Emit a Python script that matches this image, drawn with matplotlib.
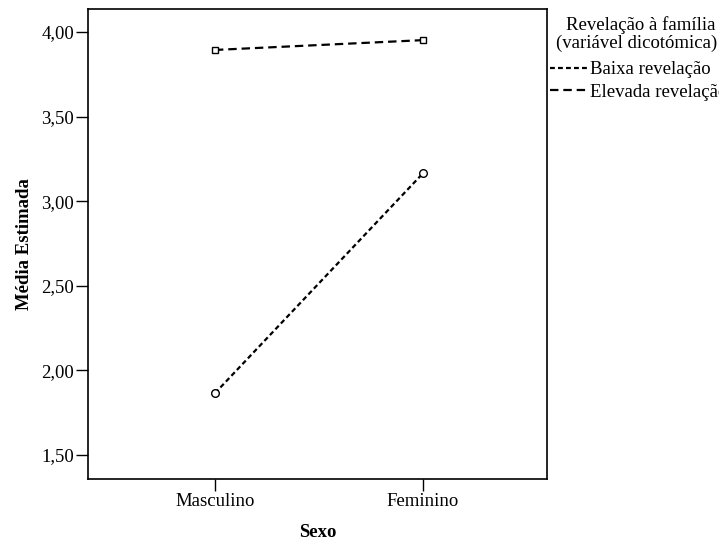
import matplotlib
matplotlib.use("Agg")
import matplotlib.pyplot as plt
from matplotlib.lines import Line2D

# === Data ===
categories = ["Masculino", "Feminino"]
baixa = [1.865, 3.165]
elevada = [3.894, 3.952]
y_ticks = [1.50, 2.00, 2.50, 3.00, 3.50, 4.00]

plt.rcParams["font.family"] = ["Liberation Serif", "DejaVu Serif"]
FS = 13.5

fig = plt.figure(figsize=(7.19, 5.45), dpi=100)
ax = fig.add_axes([88 / 719, 1 - 479 / 545, (547 - 88) / 719, (479 - 9) / 545])

x = range(len(categories))
ax.plot(x, baixa, color="black", lw=1.6, dashes=(2.2, 1.4),
        marker="o", ms=5.5, mfc="white", mec="black", mew=1.0)
ax.plot(x, elevada, color="black", lw=1.6, dashes=(3.8, 2.2),
        marker="s", ms=5, mfc="white", mec="black", mew=1.0)

ax.set_xlim(-0.61, 1.596)
ax.set_ylim(1.358, 4.136)
ax.set_xticks(list(x))
ax.set_xticklabels(categories, fontsize=FS)
ax.set_yticks(y_ticks)
ax.set_yticklabels([f"{v:.2f}".replace(".", ",") for v in y_ticks], fontsize=FS)
ax.tick_params(direction="out", length=8.6, width=1, color="black", pad=1.5)
for sp in ax.spines.values():
    sp.set_linewidth(1.2)

ax.set_xlabel("Sexo", fontsize=FS, fontweight="bold", labelpad=10)
ax.set_ylabel("Média Estimada", fontsize=FS, fontweight="bold", labelpad=6)

# Legend outside to the right (clipped at figure edge like the original)
fig.text(566 / 719, 1 - 25 / 545, "Revelação à família", fontsize=FS, va="center", ha="left")
fig.text(556 / 719, 1 - 43 / 545, "(variável dicotómica)", fontsize=FS, va="center", ha="left")
handles = [
    Line2D([], [], color="black", lw=1.6, dashes=(2.2, 1.4)),
    Line2D([], [], color="black", lw=1.6, dashes=(3.8, 2.2)),
]
fig.legend(handles, ["Baixa revelação", "Elevada revelação"],
           loc="upper left", bbox_to_anchor=(550 / 719, 1 - 61 / 545),
           frameon=False, fontsize=FS, handlelength=2.1, handletextpad=0.05,
           labelspacing=0.3, borderaxespad=0, borderpad=0)

fig.savefig("out.png", dpi=100)
